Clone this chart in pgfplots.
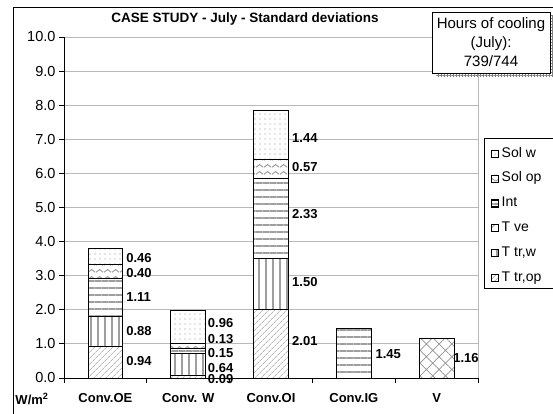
\documentclass[border=0pt]{standalone}
\usepackage{fontspec}
\setmainfont{Liberation Sans}
\usepackage{pgfplots}
\pgfplotsset{compat=1.18}
\usetikzlibrary{patterns,patterns.meta}

% wavy fill used for "Sol op"
\pgfdeclarepattern{
  name=wavy,
  type=uncolored,
  bottom left={\pgfpoint{0pt}{0pt}},
  top right={\pgfpoint{8pt}{7pt}},
  tile size={\pgfpoint{8pt}{7pt}},
  code={
    \pgfsetlinewidth{1.1pt}
    \pgfpathmoveto{\pgfpoint{0pt}{2pt}}
    \pgfpathcurveto{\pgfpoint{2pt}{2pt}}{\pgfpoint{2pt}{5pt}}{\pgfpoint{4pt}{5pt}}
    \pgfpathcurveto{\pgfpoint{6pt}{5pt}}{\pgfpoint{6pt}{2pt}}{\pgfpoint{8pt}{2pt}}
    \pgfusepath{stroke}
  }
}

\newcommand{\vl}[1]{\fontsize{13}{15}\selectfont\bfseries #1}

\begin{document}
\begin{tikzpicture}
\useasboundingbox (0pt,0pt) rectangle (553pt,414pt);
\clip (0pt,0pt) rectangle (553pt,414pt);
% outer chart frame
\draw[line width=0.8pt] (13pt,-5pt) -- (13pt,407pt) -- (600pt,407pt);

\begin{axis}[
  at={(64pt,36pt)}, anchor=south west,
  width=414pt, height=341pt, scale only axis,
  xmin=-0.5, xmax=4.5, ymin=0, ymax=10,
  clip=false,
  ybar stacked, bar width=0.42,
  axis lines*=left,
  axis line style={black, line width=0.8pt},
  tick align=outside,
  ytick={0,1,...,10},
  major tick length=5pt, minor tick length=5pt,
  tick style={black, line width=0.8pt},
  ymajorgrids, grid style={gray!55, line width=0.8pt},
  yticklabel style={font=\fontsize{14.5}{16}\selectfont,
    /pgf/number format/.cd, fixed, fixed zerofill, precision=1, assume math mode=true},
  xtick={0,1,2,3,4},
  xticklabels={Conv.OE, Conv. W, Conv.OI, Conv.IG, V},
  major x tick style={draw=none},
  minor xtick={-0.5,0.5,1.5,2.5,3.5,4.5},
  xticklabel style={font=\fontsize{13}{15}\selectfont\bfseries, yshift=-7pt},
  every axis plot/.append style={draw=black, line width=0.8pt, preaction={fill=white}},
  reverse legend,
  legend style={at={(1.0314,0.6804)}, anchor=north west, draw=none, fill=none,
    inner sep=0pt, column sep=2pt, row sep=9.8pt,
    font=\fontsize{14}{16}\selectfont,
    nodes={inner sep=1pt, text height=10pt, text depth=3pt}},
  legend cell align=left,
  legend image code/.code={\draw[#1, line width=0.5pt] (0pt,-3.5pt) rectangle (7pt,3.5pt);},
]
\addplot[pattern={Lines[angle=45, distance=4pt, line width=0.6pt]}, pattern color=gray!85]
  coordinates {(0,0.94) (1,0.09) (2,2.01) (3,0) (4,0)};
\addlegendentry{T tr,op}
\addplot[pattern={Lines[angle=90, distance=7pt, line width=2pt]}, pattern color=gray!75]
  coordinates {(0,0.88) (1,0.64) (2,1.50) (3,0) (4,0)};
\addlegendentry{T tr,w}
\addplot[pattern={Hatch[angle=45, distance=9pt, line width=0.7pt]}, pattern color=gray!85]
  coordinates {(0,0) (1,0) (2,0) (3,0) (4,1.16)};
\addlegendentry{T ve}
\addplot[pattern={Lines[angle=0, distance=7pt, line width=2.2pt]}, pattern color=gray!75]
  coordinates {(0,1.11) (1,0.15) (2,2.33) (3,1.45) (4,0)};
\addlegendentry{Int}
\addplot[pattern=wavy, pattern color=gray!75]
  coordinates {(0,0.40) (1,0.13) (2,0.57) (3,0) (4,0)};
\addlegendentry{Sol op}
\addplot[pattern={Dots[distance=5pt, radius=0.7pt]}, pattern color=gray!85]
  coordinates {(0,0.46) (1,0.96) (2,1.44) (3,0) (4,0)};
\addlegendentry{Sol w}

% value labels
\node[anchor=west, inner sep=0pt] at (axis cs:0.25,0.51) {\vl{0.94}};
\node[anchor=west, inner sep=0pt] at (axis cs:0.25,1.38) {\vl{0.88}};
\node[anchor=west, inner sep=0pt] at (axis cs:0.25,2.37) {\vl{1.11}};
\node[anchor=west, inner sep=0pt] at (axis cs:0.25,3.09) {\vl{0.40}};
\node[anchor=west, inner sep=0pt] at (axis cs:0.25,3.53) {\vl{0.46}};
\node[anchor=west, inner sep=0pt] at (axis cs:1.236,-0.03) {\vl{0.09}};
\node[anchor=west, inner sep=0pt] at (axis cs:1.236,0.30) {\vl{0.64}};
\node[anchor=west, inner sep=0pt] at (axis cs:1.236,0.73) {\vl{0.15}};
\node[anchor=west, inner sep=0pt] at (axis cs:1.236,1.14) {\vl{0.13}};
\node[anchor=west, inner sep=0pt] at (axis cs:1.236,1.61) {\vl{0.96}};
\node[anchor=west, inner sep=0pt] at (axis cs:2.254,1.09) {\vl{2.01}};
\node[anchor=west, inner sep=0pt] at (axis cs:2.254,2.80) {\vl{1.50}};
\node[anchor=west, inner sep=0pt] at (axis cs:2.254,4.81) {\vl{2.33}};
\node[anchor=west, inner sep=0pt] at (axis cs:2.254,6.20) {\vl{0.57}};
\node[anchor=west, inner sep=0pt] at (axis cs:2.254,7.05) {\vl{1.44}};
\node[anchor=west, inner sep=0pt] at (axis cs:3.26,0.71) {\vl{1.45}};
\node[anchor=west, inner sep=0pt] at (axis cs:4.20,0.60) {\vl{1.16}};

% right border of the plot area
\draw[gray!55, line width=0.8pt] (rel axis cs:1,0) -- (rel axis cs:1,1);
\end{axis}

% legend frame
\draw[line width=0.8pt] (484pt,276pt) rectangle (600pt,126pt);

% title
\node[font=\fontsize{13.5}{15}\selectfont\bfseries] at (245pt,395pt)
  {CASE STUDY - July - Standard deviations};

% unit label
\node[font=\fontsize{13}{15}\selectfont\bfseries] at (32pt,15pt) {W/m\textsuperscript{2}};

% hours of cooling box with shadow
\fill[pattern={Hatch[angle=0, distance=3pt, line width=0.4pt]}, pattern color=gray]
  (436pt,337pt) rectangle (554pt,398pt);
\node[draw, line width=0.8pt, fill=white, minimum width=118pt, minimum height=61pt,
  inner sep=0pt, align=center, font=\fontsize{15}{19}\selectfont]
  at (491pt,371.5pt) {Hours of cooling\\(July):\\739/744};
\end{tikzpicture}
\end{document}
